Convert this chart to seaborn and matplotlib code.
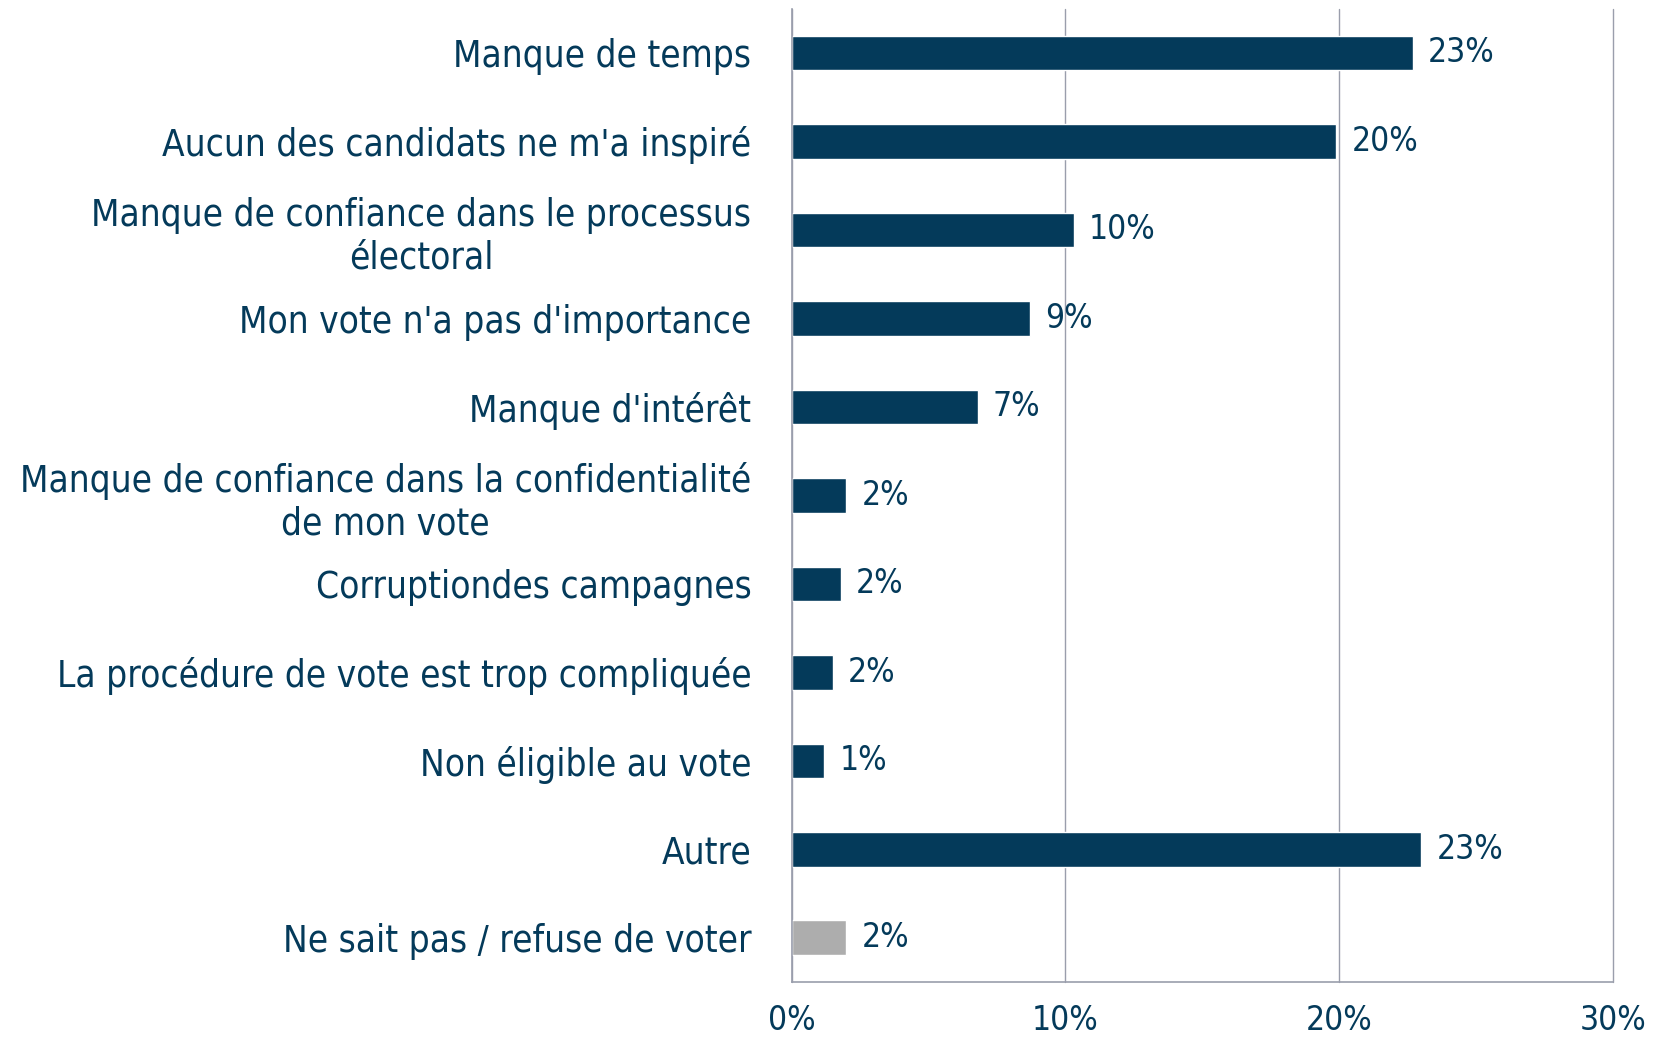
import pandas as pd
import seaborn as sns
import matplotlib.pyplot as plt

categories = [
    "Manque de temps",
    "Aucun des candidats ne m'a inspiré",
    "Manque de confiance dans le processus\nélectoral",
    "Mon vote n'a pas d'importance",
    "Manque d'intérêt",
    "Manque de confiance dans la confidentialité\nde mon vote",
    "Corruptiondes campagnes",
    "La procédure de vote est trop compliquée",
    "Non éligible au vote",
    "Autre",
    "Ne sait pas / refuse de voter",
]
values = [22.7, 19.9, 10.3, 8.7, 6.8, 2.0, 1.8, 1.5, 1.2, 23.0, 2.0]
labels = ["23%", "20%", "10%", "9%", "7%", "2%", "2%", "2%", "1%", "23%", "2%"]
colors = ["#043a5a"] * 10 + ["#adadad"]

navy = "#043a5a"
grid = "#9a9eac"

sns.set_style("white")
plt.rcParams["font.family"] = ["DejaVu Sans"]
plt.rcParams["font.stretch"] = "condensed"

df = pd.DataFrame({"cat": categories, "val": values})

fig = plt.figure(figsize=(16.56, 10.42), dpi=100)
ax = fig.add_axes([0.478, 0.0576, 0.496, 0.934])

sns.barplot(data=df, x="val", y="cat", hue="cat", palette=colors,
            orient="h", width=0.39, legend=False, ax=ax, saturation=1)

ax.set_xlim(0, 30)
ax.set_ylim(10.5, -0.5)
ax.set_xticks([0, 10, 20, 30])
ax.set_xticklabels(["0%", "10%", "20%", "30%"])
ax.set_xlabel("")
ax.set_ylabel("")
ax.xaxis.grid(True, color=grid, linewidth=1)
for gl in ax.get_xgridlines():
    gl.set_clip_on(False)
ax.set_axisbelow(True)

for s in ["top", "right"]:
    ax.spines[s].set_visible(False)
for s in ["left", "bottom"]:
    ax.spines[s].set_color(grid)
    ax.spines[s].set_linewidth(1.2)

ax.set_yticks([i - 0.5 for i in range(12)], minor=True)
ax.tick_params(axis="y", which="major", length=0, pad=29,
               labelsize=26.5, labelcolor=navy)
ax.tick_params(axis="y", which="minor", length=9, color=grid, width=1.2,
               direction="out")
ax.tick_params(axis="x", which="major", length=8, color=grid, width=1.2,
               labelsize=24, labelcolor=navy, pad=8, direction="out")
for t in ax.get_yticklabels():
    t.set_multialignment("center")

for cont in ax.containers:
    for bar in cont:
        i = int(round(bar.get_y() + bar.get_height() / 2))
        ax.text(bar.get_width() + 0.55, i, labels[i], va="center",
                ha="left", fontsize=24, color=navy)

fig.savefig("out.png", dpi=100)
